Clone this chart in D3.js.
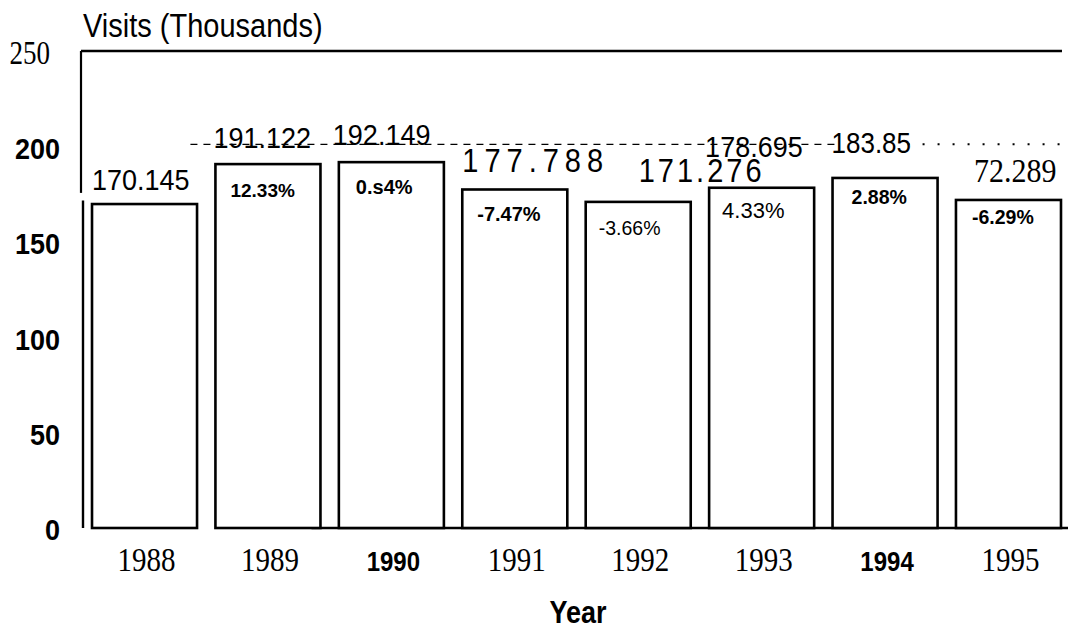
<!DOCTYPE html>
<html>
<head>
<meta charset="utf-8">
<script src="https://cdn.jsdelivr.net/npm/d3@7"></script>
<style>
  html, body { margin: 0; padding: 0; background: #fff; }
  svg { display: block; }
</style>
</head>
<body>
<svg id="chart" width="1068" height="631"></svg>
<script>
// ---------- DATA ----------
const years = ["1988", "1989", "1990", "1991", "1992", "1993", "1994", "1995"];
const visits = [170.145, 191.122, 192.149, 177.788, 171.276, 178.695, 183.85, 172.289];
const valueLabels = ["170.145", "191.122", "192.149", "177.788", "171.276", "178.695", "183.85", "72.289"];
const changeLabels = ["", "12.33%", "0.s4%", "-7.47%", "-3.66%", "4.33%", "2.88%", "-6.29%"];
const yTicks = [0, 50, 100, 150, 200, 250];
const referenceValue = 201.5;
const yTitle = "Visits (Thousands)";
const xTitle = "Year";

// ---------- LAYOUT / STYLE ----------
const svg = d3.select("#chart");
const sans = "'Liberation Sans', Arial, sans-serif";
const serif = "'Liberation Serif', 'Times New Roman', serif";

const y = d3.scaleLinear().domain([0, 250]).range([528, 52]);
const x = d3.scaleBand().domain(years).range([83, 1070]).paddingInner(0.149).paddingOuter(0.073);
const bw = x.bandwidth();

// per-year label styling (layout nudges relative to each bar)
const boldYears = new Set(["1990", "1994"]);
const valueStyle = [
  { dx: 0,   dy: -14, size: 27, font: sans,  ls: 0, sy: 1.12 },
  { dx: -2,  dy: -16, size: 27, font: sans,  ls: 0, sy: 1.12 },
  { dx: -6,  dy: -17, size: 27, font: sans,  ls: 0, sy: 1.12 },
  { dx: 0,   dy: -17, size: 29, font: sans,  ls: 6, sy: 1.15 },
  { dx: 53,  dy: -20, size: 29, font: sans,  ls: 3, sy: 1.15 },
  { dx: -4,  dy: -31, size: 27, font: sans,  ls: 0, sy: 1.12 },
  { dx: -1,  dy: -25, size: 26, font: sans,  ls: 0, sy: 1.12 },
  { dx: 18,  dy: -18, size: 30, font: serif, ls: 0, sy: 1.12 }
];
const changeStyle = [
  null,
  { dx: 15, dy: 33, size: 19, weight: "bold" },
  { dx: 17, dy: 32, size: 20, weight: "bold" },
  { dx: 15, dy: 32, size: 20, weight: "bold" },
  { dx: 13, dy: 33, size: 19.5, weight: "normal" },
  { dx: 13, dy: 30, size: 22, weight: "normal" },
  { dx: 19, dy: 26, size: 19.5, weight: "bold" },
  { dx: 16, dy: 24, size: 19.5, weight: "bold" }
];

// ---------- FRAME ----------
const xLeft = x.range()[0];
const xRight = x(years[years.length - 1]) + bw + 1;
// top frame line at 250
svg.append("line")
  .attr("x1", xLeft - 2).attr("x2", xRight)
  .attr("y1", y(250) - 1).attr("y2", y(250) - 1)
  .attr("stroke", "#000").attr("stroke-width", 2.4);
// left axis line (scanned original shows a small break in it)
svg.append("line")
  .attr("x1", xLeft - 2).attr("x2", xLeft - 2)
  .attr("y1", y(250) - 1).attr("y2", y(176))
  .attr("stroke", "#000").attr("stroke-width", 2.2);
svg.append("line")
  .attr("x1", xLeft).attr("x2", xLeft)
  .attr("y1", y(172)).attr("y2", y(0))
  .attr("stroke", "#000").attr("stroke-width", 2.4);
// baseline
svg.append("line")
  .attr("x1", x(years[1]) + bw - 9).attr("x2", 1068)
  .attr("y1", y(0)).attr("y2", y(0))
  .attr("stroke", "#000").attr("stroke-width", 2.6);

// reference dashed line
const refY = y(referenceValue);
svg.append("line")
  .attr("x1", x(years[1]) - 25).attr("x2", x(years[6]) + 5)
  .attr("y1", refY).attr("y2", refY)
  .attr("stroke", "#000").attr("stroke-width", 1.2)
  .attr("stroke-dasharray", "7,6");
svg.append("line")
  .attr("x1", x(years[6]) + bw - 30).attr("x2", xRight)
  .attr("y1", refY).attr("y2", refY)
  .attr("stroke", "#000").attr("stroke-width", 2)
  .attr("stroke-dasharray", "2,13");

// ---------- BARS ----------
svg.append("g").selectAll("rect")
  .data(years)
  .join("rect")
  .attr("x", d => x(d))
  .attr("y", (d, i) => y(visits[i]))
  .attr("width", bw)
  .attr("height", (d, i) => y(0) - y(visits[i]))
  .attr("fill", "#fff")
  .attr("stroke", "#000")
  .attr("stroke-width", 2.6);

// ---------- Y AXIS LABELS ----------
const yAxis = d3.axisLeft(y).tickValues(yTicks).tickSize(0).tickPadding(0).tickFormat(d3.format("d"));
const yg = svg.append("g").attr("transform", "translate(60,0)").call(yAxis);
yg.select(".domain").remove();
yg.selectAll(".tick text")
  .attr("x", 0).attr("y", 0).attr("dy", null)
  .attr("dominant-baseline", "central")
  .attr("text-anchor", "end")
  .attr("fill", "#000")
  .style("font-family", d => d === 250 ? serif : sans)
  .style("font-weight", d => d === 250 ? "normal" : "bold")
  .style("font-size", "27px")
  .attr("transform", d => d === 250 ? "translate(-10,0) scale(1,1.25)" : "translate(0,1) scale(1,1.1)");

// ---------- X AXIS LABELS ----------
const xAxis = d3.axisBottom(x).tickSize(0).tickPadding(0);
const xg = svg.append("g").attr("transform", `translate(0,${y(0)})`).call(xAxis);
xg.select(".domain").remove();
xg.selectAll(".tick text")
  .attr("y", 0).attr("dy", null)
  .attr("fill", "#000")
  .style("font-family", d => boldYears.has(d) ? sans : serif)
  .style("font-weight", d => boldYears.has(d) ? "bold" : "normal")
  .style("font-size", d => boldYears.has(d) ? "24px" : "29px")
  .attr("transform", "translate(2,43) scale(1,1.17)");

// ---------- VALUE LABELS ----------
svg.append("g").selectAll("text")
  .data(years)
  .join("text")
  .attr("transform", (d, i) =>
    `translate(${x(d) + valueStyle[i].dx},${y(visits[i]) + valueStyle[i].dy}) scale(1,${valueStyle[i].sy})`)
  .attr("font-family", (d, i) => valueStyle[i].font)
  .attr("font-size", (d, i) => valueStyle[i].size + "px")
  .attr("letter-spacing", (d, i) => valueStyle[i].ls)
  .attr("fill", "#000")
  .text((d, i) => valueLabels[i]);

// ---------- CHANGE LABELS ----------
svg.append("g").selectAll("text")
  .data(years.filter((d, i) => changeLabels[i] !== ""))
  .join("text")
  .attr("x", d => { const i = years.indexOf(d); return x(d) + changeStyle[i].dx; })
  .attr("y", d => { const i = years.indexOf(d); return y(visits[i]) + changeStyle[i].dy; })
  .attr("font-family", sans)
  .attr("font-size", d => changeStyle[years.indexOf(d)].size + "px")
  .attr("font-weight", d => changeStyle[years.indexOf(d)].weight)
  .attr("fill", "#000")
  .text(d => changeLabels[years.indexOf(d)]);

// ---------- TITLES ----------
svg.append("text")
  .attr("x", 0).attr("y", 0)
  .attr("font-family", sans)
  .attr("font-size", "29px")
  .attr("fill", "#000")
  .attr("transform", `translate(${xLeft},37) scale(1,1.15)`)
  .text(yTitle);

svg.append("text")
  .attr("x", 0).attr("y", 0)
  .attr("text-anchor", "middle")
  .attr("font-family", sans)
  .attr("font-weight", "bold")
  .attr("font-size", "27px")
  .attr("fill", "#000")
  .attr("transform", "translate(578,623) scale(1,1.15)")
  .text(xTitle);
</script>
</body>
</html>
